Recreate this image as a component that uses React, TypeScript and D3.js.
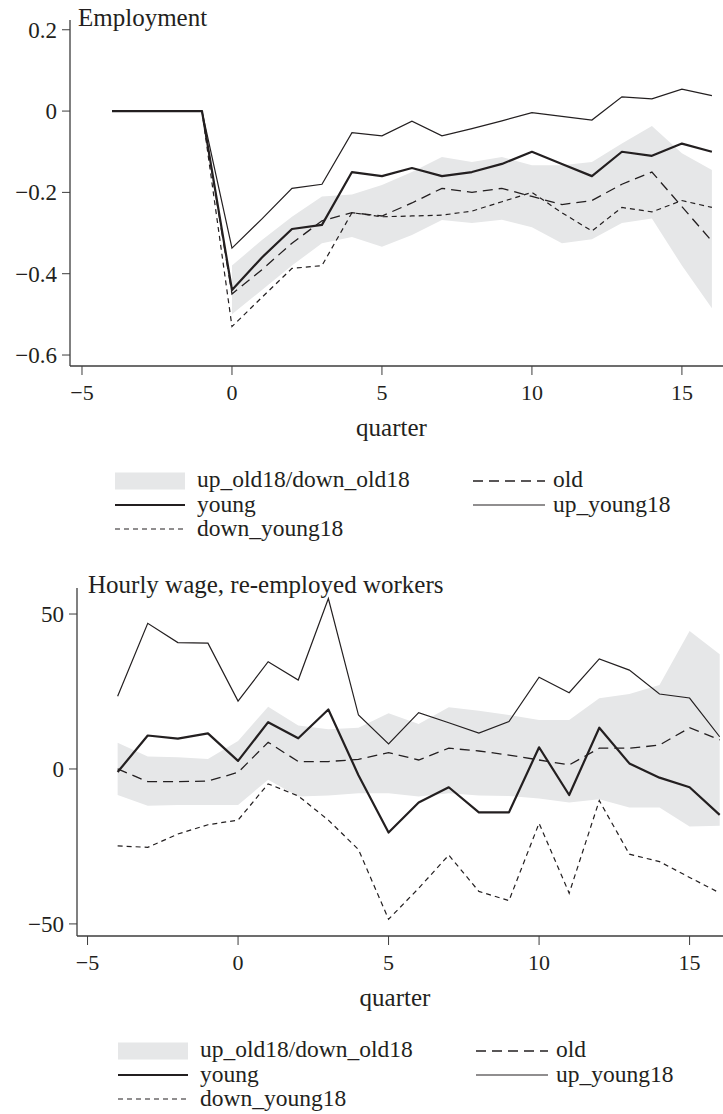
import * as d3 from 'd3'

// quarters relative to job loss
const quarters = [-4, -3, -2, -1, 0, 1, 2, 3, 4, 5, 6, 7, 8, 9, 10, 11, 12, 13, 14, 15, 16]
const xTickValues = [-5, 0, 5, 10, 15]

// Employment panel
const empYoung = [0, 0, 0, 0, -0.44, -0.36, -0.29, -0.28, -0.15, -0.16, -0.14, -0.16, -0.15, -0.13, -0.10, -0.13, -0.16, -0.10, -0.11, -0.08, -0.10]
const empUpYoung = [0, 0, 0, 0, -0.337, -0.265, -0.19, -0.18, -0.053, -0.061, -0.025, -0.061, -0.043, -0.024, -0.004, -0.013, -0.022, 0.035, 0.03, 0.054, 0.038]
const empOld = [0, 0, 0, 0, -0.45, -0.39, -0.325, -0.27, -0.25, -0.258, -0.226, -0.19, -0.2, -0.19, -0.21, -0.23, -0.22, -0.18, -0.15, -0.235, -0.32]
const empDownYoung = [0, 0, 0, 0, -0.53, -0.458, -0.387, -0.38, -0.25, -0.26, -0.258, -0.256, -0.246, -0.223, -0.2, -0.25, -0.295, -0.237, -0.248, -0.22, -0.237]
const empBandUp = [null, null, null, null, -0.38, -0.317, -0.26, -0.21, -0.205, -0.182, -0.15, -0.113, -0.125, -0.113, -0.133, -0.133, -0.125, -0.08, -0.037, -0.104, -0.145]
const empBandLo = [null, null, null, null, -0.50, -0.44, -0.38, -0.325, -0.31, -0.334, -0.305, -0.268, -0.275, -0.267, -0.286, -0.325, -0.315, -0.275, -0.264, -0.38, -0.485]
const empTicks = [-0.6, -0.4, -0.2, 0, 0.2]

// Hourly wage panel
const wageYoung = [-1, 10.8, 9.8, 11.5, 2.6, 15.1, 9.9, 19.2, -2, -20.5, -10.8, -5.9, -14, -14, 7, -8.4, 13.3, 1.8, -2.8, -5.9, -14.8]
const wageUpYoung = [23.5, 47, 40.8, 40.6, 21.9, 34.6, 28.7, 55, 17.4, 8.1, 18.2, 14.9, 11.6, 15.3, 29.6, 24.6, 35.5, 31.9, 24.2, 22.9, 10.4]
const wageOld = [0, -4.1, -4.1, -3.9, -1.1, 8.6, 2.4, 2.4, 3.1, 5.3, 2.9, 6.7, 5.8, 4.5, 2.9, 1.3, 6.7, 6.7, 7.7, 13.3, 9.4]
const wageDownYoung = [-24.8, -25.3, -21, -18, -16.5, -4.8, -8.7, -16.5, -26, -48.5, -38.5, -27.8, -39.5, -42.5, -17.5, -40.1, -10.2, -27.5, -29.9, -35, -40]
const wageBandUp = [8.5, 4, 3.8, 3.2, 9, 20.1, 14, 12.8, 13.3, 18, 14.5, 19.9, 18.8, 17.4, 15.8, 15.8, 22.8, 24.2, 27.1, 44.5, 37]
const wageBandLo = [-8.4, -11.9, -11.6, -11.6, -11.6, -3.5, -8.9, -8.6, -7.8, -7.8, -8.9, -7.8, -8.6, -8.7, -9.5, -10.8, -9.8, -12.4, -12.4, -18.6, -18.3]
const wageTicks = [-50, 0, 50]

const legendLeft = ['up_old18/down_old18', 'young', 'down_young18']
const legendRight = ['old', 'up_young18']

const FONT = 'Liberation Serif, Times New Roman, Times, DejaVu Serif, serif'
const INK = '#231f20'
const AXIS = '#3c3c3c'
const BAND = '#e6e7e8'
const OLD_DASH = '10,6'
const DOWN_DASH = '5,4'

const fmtNum = (d: number) => (d < 0 ? '\u2212' : '') + Math.abs(d)

function Panel({ title, titleX, titleY, xScale, yScale, young, upYoung, old, downYoung, bandUp, bandLo, yTicks }) {
  const [x0] = xScale.range()
  const [yB, yT] = yScale.range()

  const line = d3.line<number>()
    .defined(v => v != null)
    .x((_, i) => xScale(quarters[i]))
    .y(v => yScale(v))

  const area = d3.area<number>()
    .defined((_, i) => bandUp[i] != null)
    .x((_, i) => xScale(quarters[i]))
    .y0((_, i) => yScale(bandLo[i]))
    .y1((_, i) => yScale(bandUp[i]))

  return (
    <g fontFamily={FONT} fill={INK}>
      <path d={area(bandUp)} fill={BAND} />
      <path d={line(old)} fill="none" stroke={INK} strokeWidth={1.3} strokeDasharray={OLD_DASH} />
      <path d={line(downYoung)} fill="none" stroke={INK} strokeWidth={1.2} strokeDasharray={DOWN_DASH} />
      <path d={line(upYoung)} fill="none" stroke={INK} strokeWidth={1.2} />
      <path d={line(young)} fill="none" stroke={INK} strokeWidth={2.2} strokeLinejoin="round" />

      <line x1={x0} x2={x0} y1={yT} y2={yB} stroke={AXIS} strokeWidth={1.3} />
      <line x1={x0} x2={723} y1={yB} y2={yB} stroke={AXIS} strokeWidth={1.3} />

      {yTicks.map(t => (
        <g key={t}>
          <line x1={x0 - 8} x2={x0} y1={yScale(t)} y2={yScale(t)} stroke={AXIS} strokeWidth={1} />
          <text x={x0 - 13} y={yScale(t)} dy="0.35em" textAnchor="end" fontSize={23}>{fmtNum(t)}</text>
        </g>
      ))}
      {xTickValues.map(t => (
        <g key={t}>
          <line x1={xScale(t)} x2={xScale(t)} y1={yB} y2={yB + 9} stroke={AXIS} strokeWidth={1} />
          <text x={xScale(t)} y={yB + 34} textAnchor="middle" fontSize={22}>{fmtNum(t)}</text>
        </g>
      ))}
      <text x={(x0 + 723) / 2 - 5} y={yB + 70} textAnchor="middle" fontSize={25}>quarter</text>
      <text x={titleX} y={titleY} fontSize={25}>{title}</text>
    </g>
  )
}

function Legend({ dx, dy }) {
  const rows = [481, 505, 529]
  const sx0 = 115, sx1 = 185, tx = 197
  const rx0 = 473, rx1 = 545, rtx = 553
  const txt = (x, y, s) => (
    <text x={x} y={y + 6} fontSize={23.5}>{s}</text>
  )
  return (
    <g transform={`translate(${dx},${dy})`} fontFamily={FONT} fill={INK}>
      <rect x={sx0} y={rows[0] - 8.5} width={sx1 - sx0} height={17} fill={BAND} />
      {txt(tx, rows[0], legendLeft[0])}
      <line x1={sx0} x2={sx1} y1={rows[1]} y2={rows[1]} stroke={INK} strokeWidth={2.2} />
      {txt(tx, rows[1] + 1, legendLeft[1])}
      <line x1={sx0} x2={sx1} y1={rows[2]} y2={rows[2]} stroke={INK} strokeWidth={1.2} strokeDasharray={DOWN_DASH} />
      {txt(tx, rows[2] + 1, legendLeft[2])}

      <line x1={rx0} x2={rx1} y1={rows[0]} y2={rows[0]} stroke={INK} strokeWidth={1.3} strokeDasharray={OLD_DASH} />
      {txt(rtx, rows[0], legendRight[0])}
      <line x1={rx0} x2={rx1} y1={rows[1]} y2={rows[1]} stroke={INK} strokeWidth={1.2} />
      {txt(rtx, rows[1] + 1, legendRight[1])}
    </g>
  )
}

export default function App() {
  const xTop = d3.scaleLinear().domain([-5.4, 16.37]).range([70, 723])
  const yTop = d3.scaleLinear().domain([-0.627, 0.224]).range([366, 20])
  const xBot = d3.scaleLinear().domain([-5.35, 16.11]).range([77, 723])
  const yBot = d3.scaleLinear().domain([-53.9, 58.4]).range([936, 588])

  return (
    <div style={{ position: 'absolute', left: 0, top: 0 }}>
      <svg width={723} height={1114} style={{ display: 'block', background: '#fff' }}>
        <Panel title="Employment" titleX={78} titleY={26} xScale={xTop} yScale={yTop}
          young={empYoung} upYoung={empUpYoung} old={empOld} downYoung={empDownYoung}
          bandUp={empBandUp} bandLo={empBandLo} yTicks={empTicks} />
        <Legend dx={0} dy={0} />
        <Panel title="Hourly wage, re-employed workers" titleX={88} titleY={593} xScale={xBot} yScale={yBot}
          young={wageYoung} upYoung={wageUpYoung} old={wageOld} downYoung={wageDownYoung}
          bandUp={wageBandUp} bandLo={wageBandLo} yTicks={wageTicks} />
        <Legend dx={3} dy={570} />
      </svg>
    </div>
  )
}
